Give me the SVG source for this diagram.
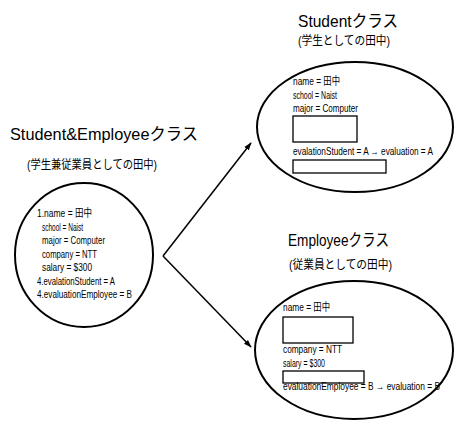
<svg xmlns="http://www.w3.org/2000/svg" width="455" height="422" viewBox="0 0 455 422">
  <style>
    .bg { fill: #ffffff; }
    text { font-family: "Liberation Sans", "Noto Sans CJK JP", sans-serif; fill: #000; }
    .title { font-size: 17px; }
    .sub { font-size: 12px; }
    .attr { font-size: 11px; }
    .shape { fill: none; stroke: #000; stroke-width: 2; }
    .box { fill: #fff; stroke: #000; stroke-width: 1.3; }
    .link { fill: none; stroke: #000; stroke-width: 1.5; }
  </style>
  <defs>
    <marker id="arrow" viewBox="0 0 10 10" refX="9" refY="5" markerWidth="8" markerHeight="8" orient="auto" markerUnits="userSpaceOnUse">
      <path d="M0,1.5 L10,5 L0,8.5 Z" fill="#000"/>
    </marker>
  </defs>
  <rect class="bg" x="0" y="0" width="455" height="422"/>

  <!-- combined object: Student & Employee -->
  <g id="student-employee">
    <text class="title" x="10" y="140" textLength="188" lengthAdjust="spacingAndGlyphs">Student&amp;Employeeクラス</text>
    <text class="sub" x="27" y="169" textLength="130" lengthAdjust="spacingAndGlyphs">(学生兼従業員としての田中)</text>
    <ellipse class="shape" cx="84" cy="255" rx="69" ry="72"/>
    <text class="attr" x="37" y="217" textLength="55" lengthAdjust="spacingAndGlyphs">1.name = 田中</text>
    <text class="attr" x="42" y="230.5" textLength="41" lengthAdjust="spacingAndGlyphs">school = Naist</text>
    <text class="attr" x="42" y="244" textLength="63" lengthAdjust="spacingAndGlyphs">major = Computer</text>
    <text class="attr" x="42" y="257.5" textLength="55" lengthAdjust="spacingAndGlyphs">company = NTT</text>
    <text class="attr" x="42" y="271" textLength="50" lengthAdjust="spacingAndGlyphs">salary = $300</text>
    <text class="attr" x="37" y="284.5" textLength="78" lengthAdjust="spacingAndGlyphs">4.evalationStudent = A</text>
    <text class="attr" x="37" y="298" textLength="95" lengthAdjust="spacingAndGlyphs">4.evaluationEmployee = B</text>
  </g>

  <!-- Student view -->
  <g id="student">
    <text class="title" x="298" y="27" textLength="100" lengthAdjust="spacingAndGlyphs">Studentクラス</text>
    <text class="sub" x="298" y="45" textLength="92" lengthAdjust="spacingAndGlyphs">(学生としての田中)</text>
    <ellipse class="shape" cx="355" cy="127" rx="98" ry="65"/>
    <text class="attr" x="293" y="85" textLength="47" lengthAdjust="spacingAndGlyphs">name = 田中</text>
    <text class="attr" x="293" y="98.5" textLength="44" lengthAdjust="spacingAndGlyphs">school = Naist</text>
    <text class="attr" x="293" y="112" textLength="65" lengthAdjust="spacingAndGlyphs">major = Computer</text>
    <rect class="box" x="293" y="116" width="64" height="26"/>
    <text class="attr" x="293" y="155" textLength="140" lengthAdjust="spacingAndGlyphs">evalationStudent = A → evaluation = A</text>
    <rect class="box" x="293" y="160" width="93" height="13"/>
  </g>

  <!-- Employee view -->
  <g id="employee">
    <text class="title" x="288" y="246" textLength="101" lengthAdjust="spacingAndGlyphs">Employeeクラス</text>
    <text class="sub" x="289" y="269" textLength="103" lengthAdjust="spacingAndGlyphs">(従業員としての田中)</text>
    <ellipse class="shape" cx="354" cy="350" rx="99" ry="69"/>
    <text class="attr" x="283" y="311" textLength="47" lengthAdjust="spacingAndGlyphs">name = 田中</text>
    <rect class="box" x="283" y="317" width="70" height="26"/>
    <text class="attr" x="283" y="353" textLength="59" lengthAdjust="spacingAndGlyphs">company = NTT</text>
    <text class="attr" x="283" y="367" textLength="42" lengthAdjust="spacingAndGlyphs">salary = $300</text>
    <rect class="box" x="283" y="371" width="81" height="12"/>
    <text class="attr" x="283" y="390" textLength="157" lengthAdjust="spacingAndGlyphs">evaluationEmployee = B → evaluation = B</text>
  </g>

  <!-- connectors -->
  <g id="connectors">
    <path class="link" d="M163,256 L251,143" marker-end="url(#arrow)"/>
    <path class="link" d="M163,256 L251,347" marker-end="url(#arrow)"/>
  </g>
</svg>
